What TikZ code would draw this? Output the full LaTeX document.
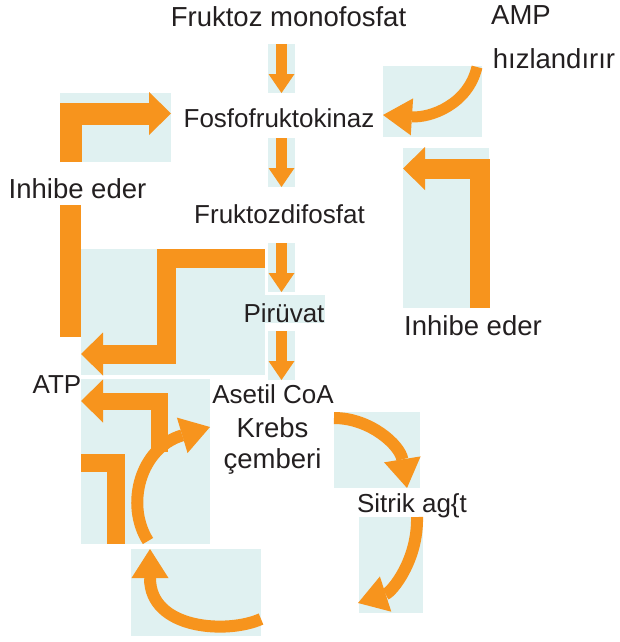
\documentclass[tikz,border=0pt]{standalone}
\usepackage{fontspec}
\setmainfont{Liberation Sans}
\usetikzlibrary{arrows.meta}
\definecolor{tilecyan}{RGB}{224,241,241}
\definecolor{pathorange}{RGB}{247,148,29}
\definecolor{termgray}{RGB}{35,31,32}
\tikzset{
    tile/.style={fill=tilecyan},
    smallarrow/.style={draw=pathorange, line width=11pt,
        -{Triangle[width=26pt, length=19pt, line width=0pt]}},
    bigarrow/.style={draw=pathorange, line width=20pt,
        -{Triangle[width=43pt, length=22pt, line width=0pt]}},
    curvearrow/.style={draw=pathorange, line width=12pt,
        -{Triangle[width=37pt, length=29pt, line width=0pt]}},
    term/.style={text=termgray, inner sep=0pt, anchor=base,
        font=\fontsize{27.5}{30}\selectfont},
    smallterm/.style={term, font=\fontsize{26}{28}\selectfont}
}

\begin{document}
\begin{tikzpicture}[x=1pt, y=-1pt]
\useasboundingbox (0, 0) rectangle (619, 642);

% sfondi
\foreach \y in {44, 138, 243, 331} {
    \fill[tile] (268, \y) rectangle (295, \y+49);
}
\fill[tile] (60, 93) rectangle (171, 162);
\fill[tile] (383, 66) rectangle (482, 137);
\fill[tile] (403, 148) rectangle (489, 308);
\fill[tile] (81, 249) rectangle (265, 375);
\fill[tile] (265, 295) rectangle (325, 323);
\fill[tile] (81, 379) rectangle (210, 544);
\fill[tile] (131, 549) rectangle (261, 636);
\fill[tile] (334, 412) rectangle (420, 488);
\fill[tile] (359, 517) rectangle (423, 613);

% frecce dritte
\foreach \y in {44, 138, 243, 331} {
    \draw[smallarrow] (281.5, \y) -- (281.5, \y+49);
}
\draw[bigarrow, line width=22pt] (70.5, 162) -- (70.5, 113.5) -- (171, 113.5);
\fill[pathorange] (60, 205) rectangle (81, 337);
\draw[bigarrow, line width=19pt] (265, 258.5) -- (166.5, 258.5) -- (166.5, 354) -- (81, 354);
\draw[bigarrow, line width=17pt] (159.5, 452) -- (159.5, 401) -- (81, 401);
\draw[pathorange, line width=18pt] (81, 462.5) -- (115.5, 462.5) -- (115.5, 544);
\draw[bigarrow] (479.5, 308) -- (479.5, 168.5) -- (403, 168.5);

% frecce curve
\draw[curvearrow, line width=11pt] (477, 67) .. controls (468, 105) and (430, 118) .. (383, 115);
\draw[curvearrow] (148, 541) .. controls (125, 505) and (140, 448) .. (210, 427);
\draw[curvearrow] (261, 619) .. controls (228, 634) and (150, 630) .. (150, 549);
\draw[curvearrow] (334, 418) .. controls (370, 418) and (400, 445) .. (407, 488);
\draw[curvearrow] (417, 517) .. controls (418, 560) and (392, 592) .. (358, 603);

% testi
\node[term] (fmono) at (288.5, 27) {Fruktoz monofosfat};
\node[term] (amp) at (521, 25) {AMP};
\node[term] (hizl) at (554, 68) {hızlandırır};
\node[smallterm] (pfk) at (279, 127) {Fosfofruktokinaz};
\node[term] (inhl) at (77.5, 198) {Inhibe eder};
\node[smallterm] (fdi) at (279.5, 223) {Fruktozdifosfat};
\node[smallterm] (piru) at (284, 322) {Pirüvat};
\node[term] (inhr) at (473, 335) {Inhibe eder};
\node[smallterm] (atp) at (57, 393) {ATP};
\node[smallterm] (acoa) at (273, 403) {Asetil CoA};
\node[term] (krebs) at (272.5, 437) {Krebs};
\node[term] (cember) at (272.5, 468) {çemberi};
\node[smallterm] (sitrik) at (412, 512) {Sitrik ag\{t};
\end{tikzpicture}
\end{document}
